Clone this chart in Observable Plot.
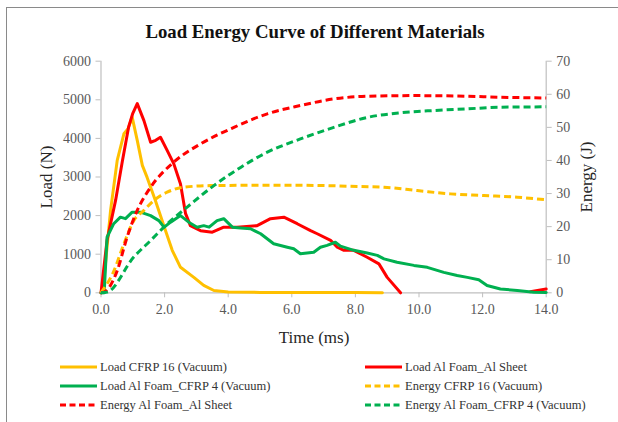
<!DOCTYPE html>
<html>
<head>
<meta charset="utf-8">
<script src="https://cdn.jsdelivr.net/npm/d3@7"></script>
<script src="https://cdn.jsdelivr.net/npm/@observablehq/plot@0.6"></script>
<style>
  html, body { margin: 0; padding: 0; background: #fff; overflow: hidden; }
  #wrap { position: relative; width: 618px; height: 422px; overflow: hidden; font-family: "Liberation Serif", "Times New Roman", serif; }
  #frame { position: absolute; left: 6px; top: 7px; width: 700px; height: 500px; border: 1.5px solid #8a8a8a; pointer-events: none; }
  .lbl { position: absolute; white-space: nowrap; transform: translate(-50%, -50%); }
  .leg { position: absolute; height: 16px; display: flex; align-items: center; font-size: 12.5px; color: #333; white-space: nowrap; }
  .leg svg { margin-right: 3px; }
  #chart { position: absolute; left: 0; top: 0; }
</style>
</head>
<body>
<div id="wrap">
  <div id="chart"></div>
  <div class="lbl" style="left:315px; top:32px; font-size:18.8px; font-weight:bold; color:#111;">Load Energy Curve of Different Materials</div>
  <div class="lbl" style="left:47px; top:177px; font-size:17px; color:#262626; transform: translate(-50%,-50%) rotate(-90deg);">Load (N)</div>
  <div class="lbl" style="left:587px; top:177px; font-size:17px; color:#262626; transform: translate(-50%,-50%) rotate(-90deg);">Energy (J)</div>
  <div class="lbl" style="left:314px; top:338px; font-size:17px; color:#262626;">Time (ms)</div>
  <div id="legend"></div>
  <div id="frame"></div>
</div>
<script>
// ---- Data ----
const xTicks = [0, 2, 4, 6, 8, 10, 12, 14];
const loadTicks = [0, 1000, 2000, 3000, 4000, 5000, 6000];
const energyTicks = [0, 10, 20, 30, 40, 50, 60, 70];

// Load CFRP 16 (Vacuum)
const loadCFRP16_t = [0, 0.09, 0.3, 0.51, 0.72, 0.85, 0.98, 1.14, 1.3, 1.45, 1.71, 2.03, 2.24, 2.5, 2.92, 3.23, 3.55, 4.0, 5.0, 6.0, 7.0, 8.0, 8.85];
const loadCFRP16_v = [0, 320, 2130, 3430, 4120, 4250, 4550, 3950, 3300, 2990, 2390, 1610, 1100, 660, 400, 190, 60, 20, 10, 10, 5, 5, 0];

// Load Al Foam_Al Sheet (null = line hidden below the axis)
const loadAlSheet_t = [0, 0.19, 0.46, 0.67, 0.87, 1.0, 1.14, 1.35, 1.56, 1.72, 1.87, 2.08, 2.29, 2.5, 2.66, 2.81, 3.13, 3.5, 3.86, 4.28, 4.91, 5.33, 5.75, 6.17, 6.59, 6.8, 7.22, 7.43, 7.64, 7.95, 8.37, 8.74, 9.0, 9.42, 9.6, 13.5, 14.0];
const loadAlSheet_v = [0, 1360, 2400, 3400, 4300, 4650, 4900, 4460, 3900, 3950, 4030, 3690, 3340, 2820, 2050, 1740, 1610, 1570, 1700, 1700, 1740, 1920, 1960, 1790, 1610, 1530, 1360, 1180, 1100, 1100, 920, 750, 400, 0, null, 30, 100];

// Load Al Foam_CFRP 4 (Vacuum)
const loadCFRP4_t = [0, 0.1, 0.19, 0.4, 0.61, 0.77, 0.98, 1.24, 1.56, 1.82, 1.98, 2.19, 2.5, 2.76, 3.02, 3.23, 3.4, 3.65, 3.86, 4.13, 4.39, 4.7, 5.02, 5.43, 5.86, 6.06, 6.27, 6.69, 6.9, 7.11, 7.37, 7.53, 7.95, 8.37, 8.69, 8.9, 9.31, 9.84, 10.26, 10.78, 11.2, 11.52, 11.88, 12.14, 12.56, 13.09, 13.61, 14];
const loadCFRP4_v = [0, 0, 1440, 1790, 1960, 1920, 2090, 2090, 2000, 1870, 1700, 1830, 2000, 1830, 1700, 1740, 1700, 1870, 1920, 1700, 1680, 1660, 1530, 1270, 1180, 1140, 1010, 1050, 1180, 1230, 1310, 1210, 1100, 1030, 970, 880, 790, 710, 660, 530, 450, 400, 340, 190, 100, 60, 15, 10];

// Energy CFRP 16 (Vacuum)
const energyCFRP16_t = [0, 0.4, 0.72, 1.03, 1.35, 1.66, 2.08, 2.6, 3.45, 5, 6, 7, 8.16, 8.9, 9.94, 10.99, 12.04, 13.09, 14];
const energyCFRP16_v = [0, 6.5, 14.8, 21.8, 24.9, 27.9, 30.4, 31.9, 32.4, 32.5, 32.5, 32.4, 32.1, 31.9, 30.9, 29.9, 29.4, 28.9, 28.1];

// Energy Al Foam_Al Sheet
const energyAlSheet_t = [0, 0.15, 0.51, 0.82, 1.14, 1.56, 2.29, 3.13, 4.18, 5.23, 6.27, 7.32, 8.37, 9.94, 11.52, 12.56, 14];
const energyAlSheet_v = [0, 0.5, 6.7, 16.8, 24.9, 31.9, 39.5, 45, 50, 54.1, 56.6, 58.6, 59.4, 59.6, 59.4, 59.1, 58.9];

// Energy Al Foam_CFRP 4 (Vacuum)
const energyCFRP4_t = [0, 0.19, 1.03, 1.56, 2.08, 2.71, 3.55, 4.39, 5.23, 6.27, 7.32, 8.37, 9.42, 10.47, 11.52, 12.56, 14];
const energyCFRP4_v = [0, 0.2, 10.8, 15.8, 20.8, 25.9, 32.4, 37.9, 42.5, 46.5, 50, 53, 54.4, 55.1, 55.6, 56.1, 56.2];

const seriesNames = [
  "Load CFRP 16 (Vacuum)", "Load Al Foam_Al Sheet", "Load Al Foam_CFRP 4 (Vacuum)",
  "Energy CFRP 16 (Vacuum)", "Energy Al Foam_Al Sheet", "Energy Al Foam_CFRP 4 (Vacuum)"
];
const seriesColors = ["#FFC000", "#FF0000", "#00B050", "#FFC000", "#FF0000", "#00B050"];

// ---- Build tables ----
const loadMax = 6000, energyMax = 70;
const eToLoad = e => e == null ? null : e * loadMax / energyMax;
const rows = (ts, vs) => ts.map((t, i) => ({t, v: vs[i]}));
const loadSeries = [
  rows(loadCFRP16_t, loadCFRP16_v),
  rows(loadAlSheet_t, loadAlSheet_v),
  rows(loadCFRP4_t, loadCFRP4_v)
];
const energySeries = [
  rows(energyCFRP16_t, energyCFRP16_v),
  rows(energyAlSheet_t, energyAlSheet_v),
  rows(energyCFRP4_t, energyCFRP4_v)
];

const axisGray = "#bfbfbf";
const textGray = "#595959";
const serif = "Liberation Serif, Times New Roman, serif";
const dash = "7,4";

const marks = [
  Plot.ruleY([0], {stroke: axisGray, strokeWidth: 1.2}),
  Plot.ruleX([0], {stroke: axisGray, strokeWidth: 1.2}),
  Plot.ruleX([14], {stroke: axisGray, strokeWidth: 1.2}),
  Plot.axisX(xTicks, {anchor: "bottom", label: null, tickSize: 5, tickPadding: 6, stroke: axisGray, fill: textGray, tickFormat: d => d.toFixed(1), fontSize: 14, fontFamily: serif}),
  Plot.axisY(loadTicks, {anchor: "left", label: null, tickSize: 5, tickPadding: 5, stroke: axisGray, fill: textGray, tickFormat: d => String(d), fontSize: 14, fontFamily: serif}),
  Plot.axisY(energyTicks.map(eToLoad), {anchor: "right", label: null, tickSize: 5, tickPadding: 5, stroke: axisGray, fill: textGray, tickFormat: d => String(Math.round(d * energyMax / loadMax)), fontSize: 14, fontFamily: serif})
];
loadSeries.forEach((s, i) => {
  marks.push(Plot.line(s, {x: "t", y: "v", stroke: seriesColors[i], strokeWidth: 3, curve: "linear"}));
});
energySeries.forEach((s, i) => {
  marks.push(Plot.line(s, {x: "t", y: d => eToLoad(d.v), stroke: seriesColors[i + 3], strokeWidth: 3, strokeDasharray: dash, strokeLinecap: "butt", curve: "monotone-x"}));
});

const chart = Plot.plot({
  width: 618,
  height: 330,
  marginLeft: 100.5,
  marginRight: 72.3,
  marginTop: 60.7,
  marginBottom: 37.7,
  x: {domain: [0, 14], label: null},
  y: {domain: [0, loadMax], label: null},
  style: {background: "transparent", fontFamily: serif, fontSize: "14px", overflow: "visible"},
  marks
});
document.getElementById("chart").appendChild(chart);

// ---- Legend ----
const legendPos = [
  [60, 367], [365, 367],
  [60, 386], [365, 386],
  [60, 405], [365, 405]
];
const legend = document.getElementById("legend");
seriesNames.forEach((name, k) => {
  const [lx, ly] = legendPos[k];
  const item = document.createElement("div");
  item.className = "leg";
  item.style.left = lx + "px";
  item.style.top = (ly - 8) + "px";
  const dashed = k >= 3;
  item.innerHTML = `<svg width="37" height="6"><line x1="0" y1="3" x2="37" y2="3" stroke="${seriesColors[k]}" stroke-width="3" ${dashed ? 'stroke-dasharray="6,3.5"' : ''}/></svg><span>${name}</span>`;
  legend.appendChild(item);
});
</script>
</body>
</html>
